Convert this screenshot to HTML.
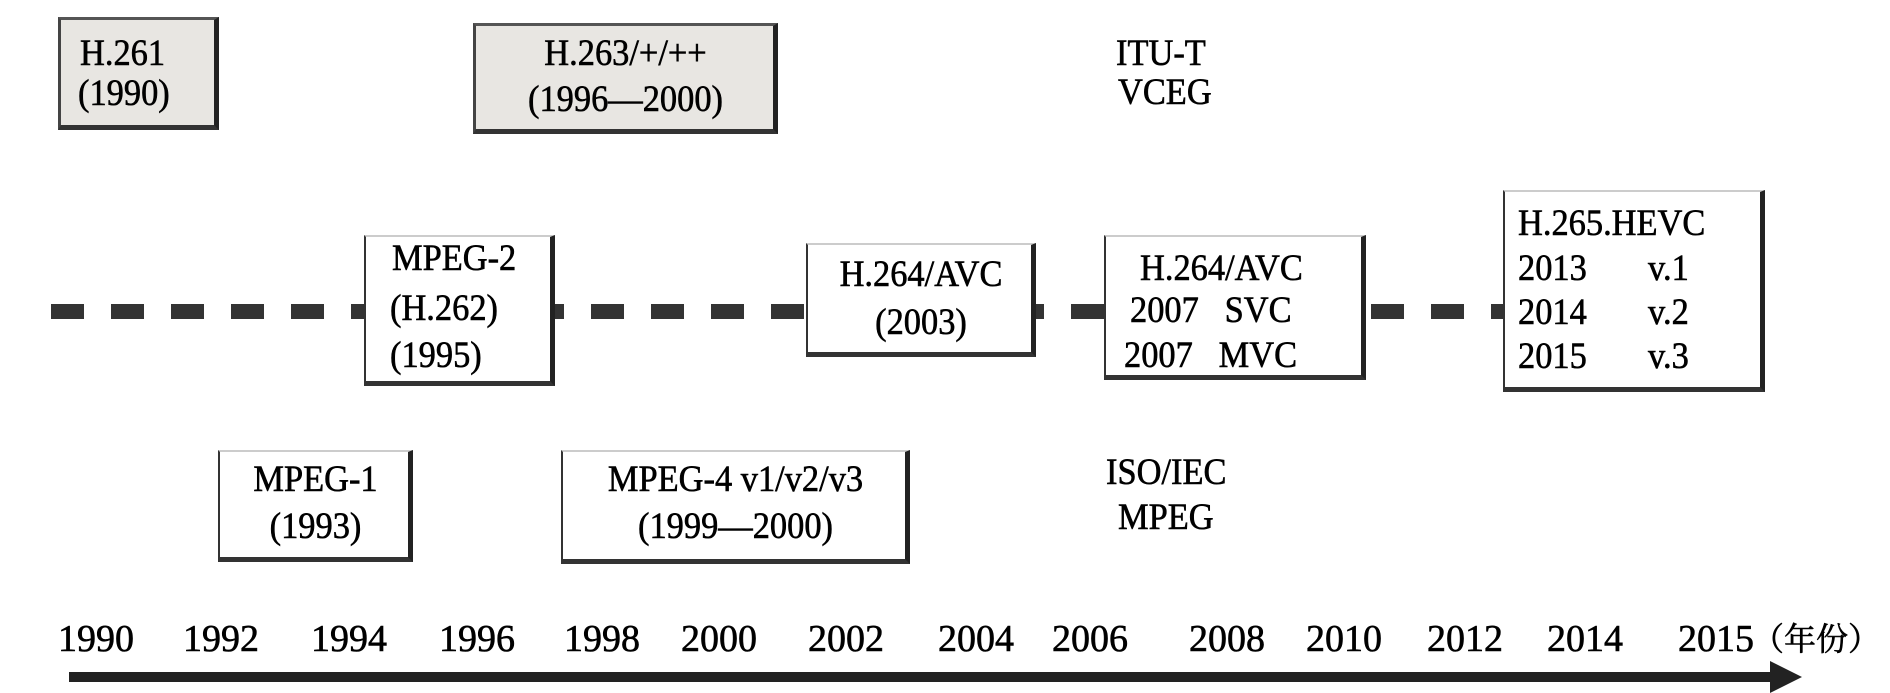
<!DOCTYPE html>
<html><head><meta charset="utf-8"><style>
body{margin:0;width:1890px;height:689px;background:#fff;position:relative;overflow:hidden;font-family:"Liberation Serif","Noto Serif CJK SC",serif;color:#000}
.b{position:absolute;box-sizing:border-box;border-left:2px solid #333;border-top:2px solid #ccc;border-right:5px solid #222;border-bottom:5px solid #333;background:#fff}
.g{background:#e8e6e2;border-top:3px solid #555;border-left:3px solid #444}
.t{position:absolute;font-size:37px;line-height:40px;white-space:pre;transform:scaleX(0.93);transform-origin:left;-webkit-text-stroke:0.6px #000}
.c{text-align:center;transform-origin:center}
.y{position:absolute;top:619px;font-size:38px;line-height:40px;white-space:pre;-webkit-text-stroke:0.6px #000}
</style></head><body>
<div style="position:absolute;left:51px;top:304px;width:1460px;height:15px;background:repeating-linear-gradient(90deg,#333 0 33px,transparent 33px 60px)"></div>
<div class="b g" style="left:58px;top:17px;width:161px;height:113px"></div>
<div class="t" style="left:80px;top:34px">H.261</div>
<div class="t" style="left:78px;top:74px">(1990)</div>

<div class="b g" style="left:473px;top:23px;width:305px;height:111px"></div>
<div class="t c" style="left:473px;width:305px;top:34px">H.263/+/++</div>
<div class="t c" style="left:473px;width:305px;top:80px">(1996—2000)</div>

<div class="t" style="left:1116px;top:34px">ITU-T</div>
<div class="t" style="left:1118px;top:73px">VCEG</div>

<div class="b" style="left:364px;top:235px;width:191px;height:151px"></div>
<div class="t" style="left:392px;top:239px">MPEG-2</div>
<div class="t" style="left:390px;top:289px">(H.262)</div>
<div class="t" style="left:390px;top:336px">(1995)</div>

<div class="b" style="left:806px;top:243px;width:230px;height:114px"></div>
<div class="t c" style="left:806px;width:230px;top:255px">H.264/AVC</div>
<div class="t c" style="left:806px;width:230px;top:303px">(2003)</div>

<div class="b" style="left:1104px;top:235px;width:262px;height:145px"></div>
<div class="t" style="left:1140px;top:249px">H.264/AVC</div>
<div class="t" style="left:1130px;top:291px">2007   SVC</div>
<div class="t" style="left:1124px;top:336px">2007   MVC</div>

<div class="b" style="left:1503px;top:190px;width:262px;height:202px"></div>
<div class="t" style="left:1518px;top:204px">H.265.HEVC</div>
<div class="t" style="left:1518px;top:249px">2013</div><div class="t" style="left:1648px;top:249px">v.1</div>
<div class="t" style="left:1518px;top:293px">2014</div><div class="t" style="left:1648px;top:293px">v.2</div>
<div class="t" style="left:1518px;top:337px">2015</div><div class="t" style="left:1648px;top:337px">v.3</div>

<div class="b" style="left:218px;top:450px;width:195px;height:112px"></div>
<div class="t c" style="left:218px;width:195px;top:460px">MPEG-1</div>
<div class="t c" style="left:218px;width:195px;top:507px">(1993)</div>

<div class="b" style="left:561px;top:450px;width:349px;height:114px"></div>
<div class="t c" style="left:561px;width:349px;top:460px">MPEG-4 v1/v2/v3</div>
<div class="t c" style="left:561px;width:349px;top:507px">(1999—2000)</div>

<div class="t" style="left:1106px;top:453px">ISO/IEC</div>
<div class="t" style="left:1118px;top:498px">MPEG</div>

<div class="y" style="left:58px">1990</div>
<div class="y" style="left:183px">1992</div>
<div class="y" style="left:311px">1994</div>
<div class="y" style="left:439px">1996</div>
<div class="y" style="left:564px">1998</div>
<div class="y" style="left:681px">2000</div>
<div class="y" style="left:808px">2002</div>
<div class="y" style="left:938px">2004</div>
<div class="y" style="left:1052px">2006</div>
<div class="y" style="left:1189px">2008</div>
<div class="y" style="left:1306px">2010</div>
<div class="y" style="left:1427px">2012</div>
<div class="y" style="left:1547px">2014</div>
<div class="y" style="left:1678px">2015</div>
<div class="y" style="left:1752px;font-size:32px">（年份）</div>
<div style="position:absolute;left:69px;top:672px;width:1705px;height:10px;background:#222"></div>
<div style="position:absolute;left:1770px;top:661px;width:0;height:0;border-top:16px solid transparent;border-bottom:16px solid transparent;border-left:32px solid #222"></div>
</body></html>
